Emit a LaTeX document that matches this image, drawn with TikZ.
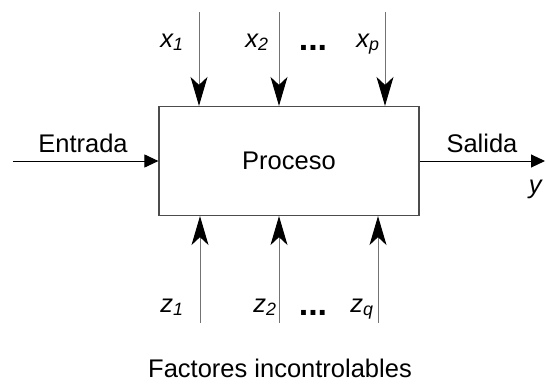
\documentclass[tikz,border=0pt]{standalone}
\usepackage{fontspec}
\setmainfont{Liberation Sans}
\usepackage{tikz}
\usetikzlibrary{arrows.meta,positioning}

\begin{document}
\begin{tikzpicture}[x=1pt, y=-1pt, font=\fontsize{25.5}{30}\selectfont,
  caja/.style={draw=black!70, line width=1.2pt, minimum width=260pt, minimum height=109pt},
  vflecha/.style={every edge/.style={draw=black!55, line width=1pt, -{Stealth[length=29pt,width=17pt,inset=8pt,black]}}},
  hflecha/.style={every edge/.style={draw=black, line width=1pt, -{Triangle[length=14pt,width=13pt]}}},
  etiq/.style={anchor=base, inner sep=0pt},
  puntos/.style={anchor=base, inner sep=0pt, font=\fontsize{34}{40}\selectfont\bfseries}]
\useasboundingbox (0,0) rectangle (546,388);

\node[caja] (proceso) at (289,161) {Proceso};

% entradas controlables
\coordinate (x1) at (199,12);
\coordinate (x2) at (279,12);
\coordinate (xp) at (385,12);
% factores incontrolables
\coordinate (z1) at (200,323);
\coordinate (z2) at (279,323);
\coordinate (zq) at (378,323);
\coordinate (ent) at (13,161);
\coordinate (sal) at (545,161);

\path[vflecha] (x1) edge (x1 |- proceso.north)
        (x2) edge (x2 |- proceso.north)
        (xp) edge (xp |- proceso.north)
        (z1) edge (z1 |- proceso.south)
        (z2) edge (z2 |- proceso.south)
        (zq) edge (zq |- proceso.south);
\path[hflecha] (ent) edge (proceso.west)
        (proceso.east) edge (sal);

\node[etiq] (lx1) at (172,47) {\textit{x\textsubscript{1}}};
\node[etiq] (lx2) at (257,47) {\textit{x\textsubscript{2}}};
\node[puntos] (px) at (313,50) {...};
\node[etiq] (lxp) at (368,47) {\textit{x\textsubscript{p}}};

\node[etiq] (lz1) at (172,312) {\textit{z\textsubscript{1}}};
\node[etiq] (lz2) at (265,312) {\textit{z\textsubscript{2}}};
\node[puntos] (pz) at (313,315) {...};
\node[etiq] (lzq) at (362,312) {\textit{z\textsubscript{q}}};

\node[etiq] (lent) at (83,152) {Entrada};
\node[etiq] (lsal) at (482,152) {Salida};
\node[etiq] (ly) at (536,193) {\textit{y}};
\node[etiq] (lfac) at (280,377) {Factores incontrolables};
\end{tikzpicture}
\end{document}
